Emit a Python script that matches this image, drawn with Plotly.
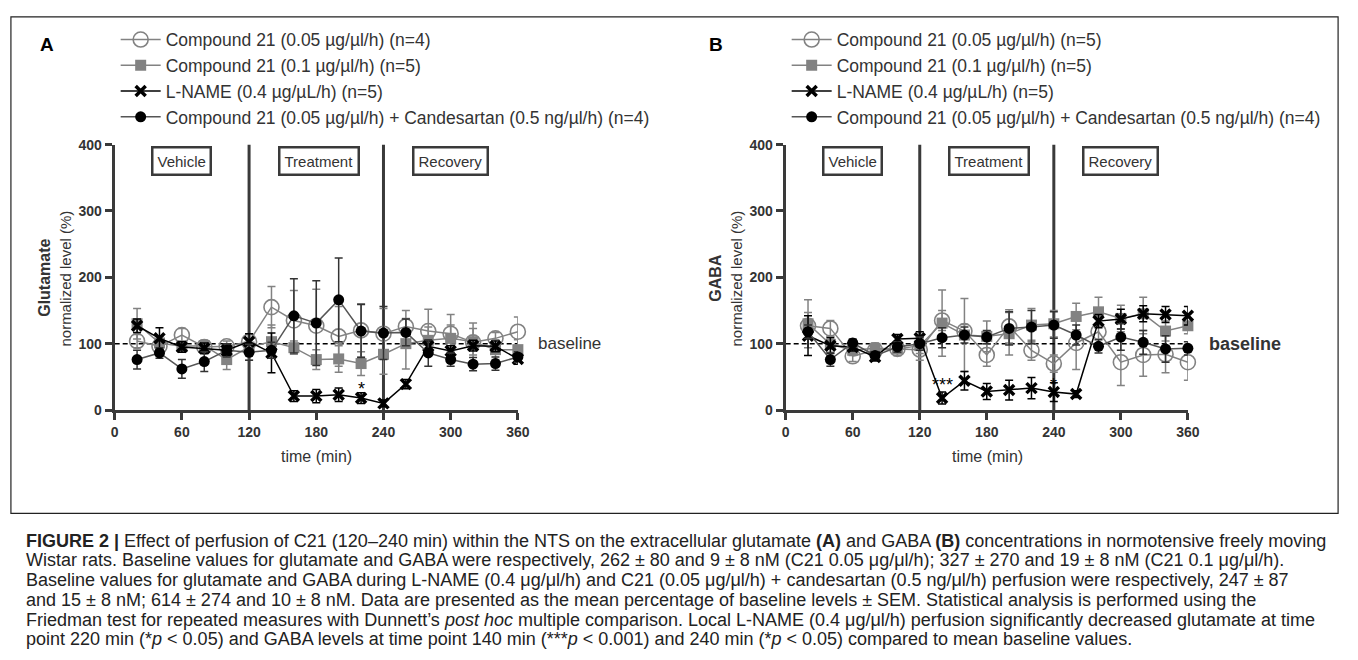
import plotly.graph_objects as go

W, H = 1358, 660

time = [20, 40, 60, 80, 100, 120, 140, 160, 180, 200, 220, 240, 260, 280, 300, 320, 340, 360]

names_A = ["Compound 21 (0.05 µg/µl/h) (n=4)", "Compound 21 (0.1 µg/µl/h) (n=5)",
           "L-NAME (0.4 µg/µL/h) (n=5)", "Compound 21 (0.05 µg/µl/h) + Candesartan (0.5 ng/µl/h) (n=4)"]
names_B = ["Compound 21 (0.05 µg/µl/h) (n=5)", "Compound 21 (0.1 µg/µl/h) (n=5)",
           "L-NAME (0.4 µg/µL/h) (n=5)", "Compound 21 (0.05 µg/µl/h) + Candesartan (0.5 ng/µl/h) (n=4)"]

# Panel A: glutamate (% of baseline)
A_c005 = [104, 96, 113, 95, 96, 103, 155, 135, 127, 111, 120, 115, 126, 119, 115, 102, 108, 118]
A_c005_err = [10, 8, 10, 8, 8, 12, 31, 45, 55, 45, 40, 38, 24, 33, 29, 29, 9, 22]
A_c01 = [130, 101, 96, 97, 76, 95, 103, 94, 76, 77, 70, 84, 100, 105, 108, 103, 91, 91]
A_c01_err = [23, 10, 8, 8, 15, 20, 25, 10, 15, 20, 18, 30, 38, 20, 20, 20, 15, 15]
A_lname = [127, 108, 95, 93, 90, 103, 86, 21, 21, 23, 18, 10, 39, 96, 89, 97, 96, 77]
A_lname_err = [10, 16, 8, 8, 8, 12, 30, 8, 10, 10, 8, 5, 7, 8, 8, 8, 8, 8]
A_cand = [76, 86, 62, 73, 90, 87, 90, 142, 131, 166, 119, 116, 117, 86, 76, 69, 70, 80]
A_cand_err = [14, 8, 14, 15, 10, 12, 12, 56, 64, 63, 40, 40, 20, 20, 10, 10, 10, 8]

# Panel B: GABA (% of baseline)
B_c005 = [127, 123, 81, 90, 92, 91, 135, 119, 83, 126, 90, 70, 101, 118, 72, 83, 84, 72]
B_c005_err = [20, 12, 8, 8, 10, 16, 15, 10, 17, 25, 15, 13, 40, 20, 35, 32, 28, 27]
B_c01 = [130, 99, 90, 93, 92, 97, 131, 113, 111, 115, 128, 130, 141, 148, 138, 145, 119, 127]
B_c01_err = [36, 12, 8, 8, 10, 12, 50, 55, 23, 32, 25, 20, 20, 22, 20, 25, 15, 12]
B_lname = [112, 97, 95, 80, 107, 108, 18, 44, 28, 30, 33, 27, 24, 134, 137, 145, 144, 142]
B_lname_err = [30, 12, 6, 6, 7, 10, 9, 14, 12, 15, 16, 14, 5, 10, 15, 12, 12, 14]
B_cand = [118, 76, 101, 82, 95, 100, 109, 113, 110, 123, 125, 128, 113, 96, 110, 102, 92, 93]
B_cand_err = [10, 10, 6, 6, 8, 10, 15, 12, 10, 25, 25, 20, 15, 10, 20, 18, 20, 10]

x_ticks = [0, 60, 120, 180, 240, 300, 360]
y_ticks = [0, 100, 200, 300, 400]
phase_labels = ["Vehicle", "Treatment", "Recovery"]
phase_centers = [60, 182, 300]

AX = "#3a3a3a"
GRAY = "#828282"
FONT = "Arial, Liberation Sans, sans-serif"

styles = [
    dict(marker=dict(symbol="circle-open", size=15, color=GRAY, line=dict(width=1.6, color=GRAY)),
         line=dict(color=GRAY, width=1.5), ecolor=GRAY),
    dict(marker=dict(symbol="square", size=11, color=GRAY), line=dict(color=GRAY, width=1.5), ecolor=GRAY),
    dict(marker=dict(symbol="x-thin", size=10, color="#000", line=dict(width=3.5, color="#000")),
         line=dict(color="#000", width=1.5), ecolor="#000"),
    dict(marker=dict(symbol="circle", size=11, color="#000"), line=dict(color="#555", width=1.5), ecolor="#333"),
]

fig = go.Figure()

def add_panel(series, names, xa, ya, leg):
    for (y, e), nm, st in zip(series, names, styles):
        fig.add_trace(go.Scatter(
            x=time, y=y, mode="lines+markers", name=nm,
            marker=st["marker"], line=st["line"],
            error_y=dict(type="data", array=e, visible=True, color=st["ecolor"], thickness=1.5, width=4),
            xaxis=xa, yaxis=ya, legend=leg, cliponaxis=False,
        ))

add_panel([(A_c005, A_c005_err), (A_c01, A_c01_err), (A_lname, A_lname_err), (A_cand, A_cand_err)],
          names_A, "x", "y", "legend")
add_panel([(B_c005, B_c005_err), (B_c01, B_c01_err), (B_lname, B_lname_err), (B_cand, B_cand_err)],
          names_B, "x2", "y2", "legend2")

def px(v):
    return v / W

def py(v):
    return 1 - v / H

dom_y = [py(412), py(140)]
domA = [px(112), px(520)]
domB = [px(791), px(1198)]

axis_common = dict(showgrid=False, zeroline=False, showline=True, linecolor=AX, linewidth=3,
                   ticks="outside", ticklen=7, tickwidth=3, tickcolor=AX,
                   tickfont=dict(family=FONT, size=14, color="#333", weight="bold"))

fig.update_layout(
    width=W, height=H, margin=dict(l=0, r=0, t=0, b=0),
    plot_bgcolor="white", paper_bgcolor="white",
    xaxis=dict(domain=domA, range=[0, 360], tickvals=x_ticks, anchor="y", **axis_common),
    yaxis=dict(domain=dom_y, range=[0, 400], tickvals=y_ticks, anchor="x", **axis_common),
    xaxis2=dict(domain=domB, range=[0, 360], tickvals=x_ticks, anchor="y2", **axis_common),
    yaxis2=dict(domain=dom_y, range=[0, 400], tickvals=y_ticks, anchor="x2", **axis_common),
    legend=dict(x=px(113), y=py(14), xanchor="left", yanchor="top", bgcolor="rgba(0,0,0,0)",
                font=dict(family=FONT, size=17.5, color="#333"), tracegroupgap=0, itemwidth=40),
    legend2=dict(x=px(792), y=py(14), xanchor="left", yanchor="top", bgcolor="rgba(0,0,0,0)",
                 font=dict(family=FONT, size=17.5, color="#333"), tracegroupgap=0, itemwidth=40),
    showlegend=True,
)

shapes = []
annotations = []

for xa, ya in (("x", "y"), ("x2", "y2")):
    for xv in (120, 240):
        shapes.append(dict(type="line", xref=xa, yref=ya, x0=xv, x1=xv, y0=0, y1=400,
                           line=dict(color=AX, width=3), layer="below"))
    shapes.append(dict(type="line", xref=xa, yref=ya, x0=0, x1=360, y0=100, y1=100,
                       line=dict(color="#000", width=1.5, dash="5px,3px"), layer="below"))
    for lab, c in zip(phase_labels, phase_centers):
        annotations.append(dict(xref=xa, yref=ya, x=c, y=375, text=lab, showarrow=False,
                                xanchor="center", yanchor="middle",
                                font=dict(family=FONT, size=15, color="#333"),
                                bordercolor=AX, borderwidth=2.5, borderpad=4, bgcolor="white"))

# baseline labels
annotations.append(dict(xref="paper", yref="paper", x=px(538), y=py(344), xanchor="left", yanchor="middle",
                        text="baseline", showarrow=False, font=dict(family=FONT, size=17, color="#333")))
annotations.append(dict(xref="paper", yref="paper", x=px(1217), y=py(344), xanchor="left", yanchor="middle",
                        text="baseline", showarrow=False,
                        font=dict(family=FONT, size=18, color="#333", weight="bold")))
# significance stars
star_font = dict(family=FONT, size=18, color="#000")
annotations.append(dict(xref="x", yref="y", x=220, y=31, text="*", showarrow=False,
                        xanchor="center", yanchor="middle", font=star_font))
annotations.append(dict(xref="x2", yref="y2", x=140, y=37, text="***", showarrow=False,
                        xanchor="center", yanchor="middle", font=star_font))
annotations.append(dict(xref="x2", yref="y2", x=240, y=37, text="*", showarrow=False,
                        xanchor="center", yanchor="middle", font=star_font))

# axis titles
for axpx, t1, cx in ((112, "Glutamate", 316), (791, "GABA", 995)):
    annotations.append(dict(xref="paper", yref="paper", x=px(axpx - 71), y=py(277), text=f"<b>{t1}</b>",
                            textangle=-90, showarrow=False, xanchor="center", yanchor="middle",
                            font=dict(family=FONT, size=16, color="#333")))
    annotations.append(dict(xref="paper", yref="paper", x=px(axpx - 50), y=py(277),
                            text="normalized level (%)", textangle=-90, showarrow=False,
                            xanchor="center", yanchor="middle",
                            font=dict(family=FONT, size=15, color="#333")))
    annotations.append(dict(xref="paper", yref="paper", x=px(cx), y=py(460), text="time (min)",
                            showarrow=False, xanchor="center", yanchor="middle",
                            font=dict(family=FONT, size=16, color="#333")))

annotations.append(dict(xref="paper", yref="paper", x=px(44), y=py(37), text="<b>A</b>", showarrow=False,
                        xanchor="center", yanchor="middle", font=dict(family=FONT, size=19, color="#000")))
annotations.append(dict(xref="paper", yref="paper", x=px(720), y=py(37), text="<b>B</b>", showarrow=False,
                        xanchor="center", yanchor="middle", font=dict(family=FONT, size=19, color="#000")))

caption = [
    "<b>FIGURE 2 |</b> Effect of perfusion of C21 (120–240 min) within the NTS on the extracellular glutamate <b>(A)</b> and GABA <b>(B)</b> concentrations in normotensive freely moving",
    "Wistar rats. Baseline values for glutamate and GABA were respectively, 262 ± 80 and 9 ± 8 nM (C21 0.05 μg/μl/h); 327 ± 270 and 19 ± 8 nM (C21 0.1 μg/μl/h).",
    "Baseline values for glutamate and GABA during L-NAME (0.4 μg/μl/h) and C21 (0.05 μg/μl/h) + candesartan (0.5 ng/μl/h) perfusion were respectively, 247 ± 87",
    "and 15 ± 8 nM; 614 ± 274 and 10 ± 8 nM. Data are presented as the mean percentage of baseline levels ± SEM. Statistical analysis is performed using the",
    "Friedman test for repeated measures with Dunnett’s <i>post hoc</i> multiple comparison. Local L-NAME (0.4 μg/μl/h) perfusion significantly decreased glutamate at time",
    "point 220 min (*<i>p</i> < 0.05) and GABA levels at time point 140 min (***<i>p</i> < 0.001) and 240 min (*<i>p</i> < 0.05) compared to mean baseline values.",
]
for i, line in enumerate(caption):
    annotations.append(dict(xref="paper", yref="paper", x=px(20), y=py(546 + 20.2 * i), xanchor="left",
                            yanchor="middle", text=line, showarrow=False, align="left",
                            font=dict(family=FONT, size=18, color="#222")))

# frame
shapes.append(dict(type="rect", xref="paper", yref="paper", x0=px(7), x1=px(1350), y0=py(518), y1=py(9),
                   line=dict(color="#222", width=1.2), layer="below"))

fig.update_layout(shapes=shapes, annotations=annotations)
fig.write_html("out.html", config={"displayModeBar": False},
               post_script="document.body.style.margin='0px';document.body.style.overflow='hidden';")
